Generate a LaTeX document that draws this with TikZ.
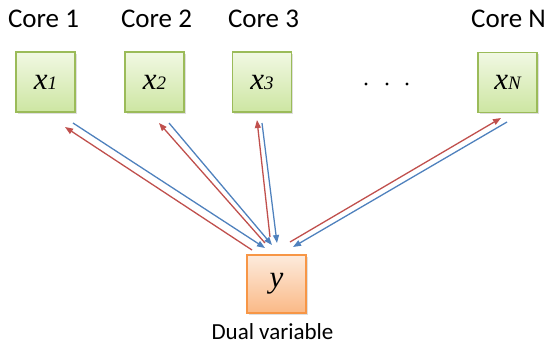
\documentclass[tikz,border=0pt]{standalone}
\usepackage{fontspec}
\setmainfont{Carlito}
\newfontfamily\varfont{Liberation Serif}
\usetikzlibrary{arrows.meta,shadows}
\definecolor{greenedge}{HTML}{9BBB59}
\definecolor{greentop}{HTML}{F1F8E3}
\definecolor{greenbot}{HTML}{CDE6A2}
\definecolor{orangeedge}{HTML}{F79646}
\definecolor{orangetop}{HTML}{FDEBDD}
\definecolor{orangebot}{HTML}{FAB986}
\definecolor{upred}{HTML}{C0504D}
\definecolor{downblue}{HTML}{4F81BD}
\tikzset{
  corebox/.style={draw=greenedge, line width=1.4pt, top color=greentop, bottom color=greenbot,
    minimum width=59pt, minimum height=60pt, inner sep=0pt,
    drop shadow={shadow xshift=1.5pt, shadow yshift=-1.5pt, opacity=0.25}},
  dualbox/.style={draw=orangeedge, line width=1.4pt, top color=orangetop, bottom color=orangebot,
    minimum width=59pt, minimum height=58pt, inner sep=0pt,
    drop shadow={shadow xshift=1.5pt, shadow yshift=-1.5pt, opacity=0.25}},
  corelabel/.style={font=\fontsize{27}{30}\selectfont, anchor=base, inner sep=0pt},
  duallabel/.style={font=\fontsize{23}{26}\selectfont, anchor=base, inner sep=0pt},
  upflow/.style={draw=upred, line width=1.3pt, -{Triangle[length=8pt,width=6pt]}},
  downflow/.style={draw=downblue, line width=1.3pt, -{Triangle[length=8pt,width=6pt]}},
  dotmark/.style={circle, fill=black, inner sep=0pt, minimum size=3.2pt}
}
\newcommand{\var}[2]{{\varfont\itshape\fontsize{31}{32}\selectfont #1\fontsize{19}{20}\selectfont #2}}
\begin{document}
\begin{tikzpicture}[x=1pt, y=-1pt]
  \useasboundingbox (0,0) rectangle (550,346);

  % core labels
  \node[corelabel] (c1) at (43.5,27) {Core 1};
  \node[corelabel] (c2) at (156.5,27) {Core 2};
  \node[corelabel] (c3) at (263.5,27) {Core 3};
  \node[corelabel] (cn) at (508.5,27) {Core N};

  % primal variable boxes
  \node[corebox] (x1) at (45.5,82) {\var{x}{1}};
  \node[corebox] (x2) at (154.5,82) {\var{x}{2}};
  \node[corebox] (x3) at (262,82) {\var{x}{3}};
  \node[corebox] (xn) at (507.5,82.5) {\var{x}{N}};

  % ellipsis
  \node[dotmark] (d1) at (366,84) {};
  \node[dotmark] (d2) at (387,84) {};
  \node[dotmark] (d3) at (407,84) {};

  % dual variable box
  \node[dualbox] (y) at (276.5,284) {\var{y}{}};
  \node[duallabel] (ylab) at (272.5,339.5) {Dual variable};

  % arrow end points
  \coordinate (r1a) at (252,250); \coordinate (r1b) at (65,127);
  \coordinate (b1a) at (73,123);  \coordinate (b1b) at (265,248);
  \coordinate (r2a) at (265,243); \coordinate (r2b) at (159,123);
  \coordinate (b2a) at (169,123); \coordinate (b2b) at (272,245);
  \coordinate (r3a) at (270,237); \coordinate (r3b) at (257,120);
  \coordinate (b3a) at (262,123); \coordinate (b3b) at (277,243);
  \coordinate (rna) at (290,242); \coordinate (rnb) at (501,118);
  \coordinate (bna) at (507,122); \coordinate (bnb) at (293,247);

  % messages from the dual variable to the cores
  \draw[upflow] (r1a) -- (r1b);
  \draw[upflow] (r2a) -- (r2b);
  \draw[upflow] (r3a) -- (r3b);
  \draw[upflow] (rna) -- (rnb);

  % messages from the cores to the dual variable
  \draw[downflow] (b1a) -- (b1b);
  \draw[downflow] (b2a) -- (b2b);
  \draw[downflow] (b3a) -- (b3b);
  \draw[downflow] (bna) -- (bnb);
\end{tikzpicture}
\end{document}
